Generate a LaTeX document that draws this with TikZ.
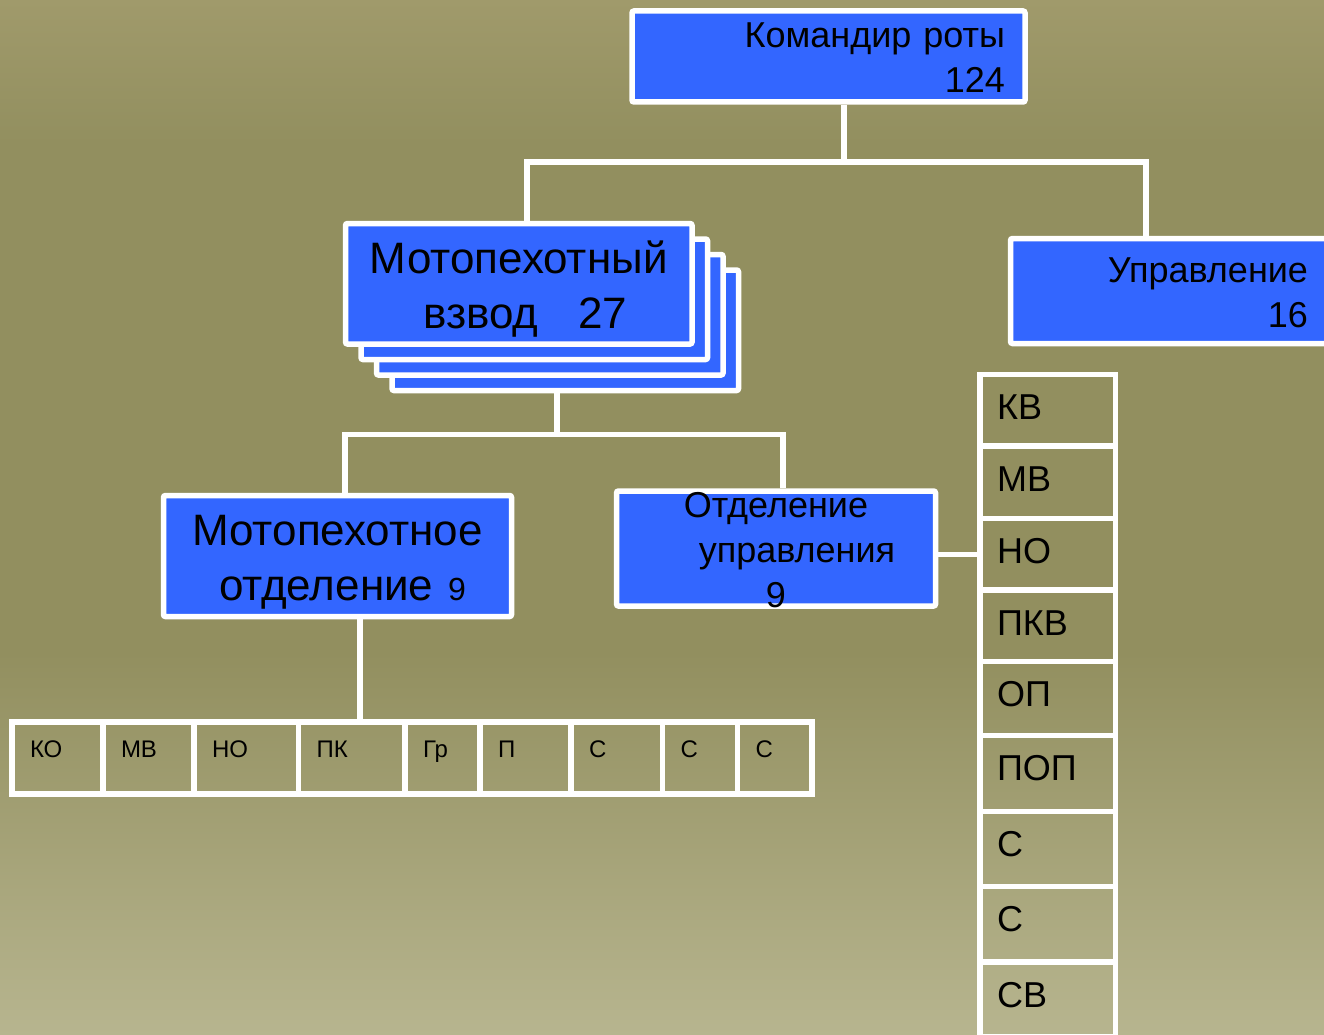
\documentclass[tikz,border=0pt]{standalone}
\usepackage{fontspec}
\setmainfont{Liberation Sans}
\definecolor{rotablue}{HTML}{3366FF}
\definecolor{bgtop}{HTML}{A09A6B}
\definecolor{bgmid}{HTML}{928F5F}
\definecolor{bgbot}{HTML}{B7B58F}
\pgfdeclareverticalshading{bgshade}{100bp}{color(0bp)=(bgbot); color(25bp)=(bgbot); color(43.5bp)=(bgmid); color(68bp)=(bgmid); color(75bp)=(bgtop); color(100bp)=(bgtop)}

\begin{document}
\begin{tikzpicture}[x=1pt, y=-1pt,
  box/.style={draw=white, line width=5.5pt, fill=rotablue, rounded corners=2pt, inner ysep=0pt, text=black},
  big/.style={font=\fontsize{44}{55}\selectfont},
  mid/.style={font=\fontsize{36}{45}\selectfont},
  small/.style={font=\fontsize{24}{29}\selectfont},
  cell/.style={draw=white, line width=5.5pt, inner ysep=0pt, align=left, text=black},
  wire/.style={white, line width=5.5pt},
]
  \useasboundingbox (0,0) rectangle (1324,1035);
  \clip (0,0) rectangle (1324,1035);
  \shade[shading=bgshade] (0,0) rectangle (1324,1035);

  % top level
  \node[box, mid, minimum width=393pt, minimum height=91pt, text width=353pt, inner xsep=20pt, align=right, text height=26pt, text depth=43pt] (cmd) at (828.5,56.5) {Командир роты\\124};
  \foreach \k in {3,2,1}
    \node[box, minimum width=346.5pt, minimum height=120.5pt] (plt\k) at ({518.75+15.5*\k},{283.75+15.5*\k}) {};
  \node[box, big, minimum width=346.5pt, minimum height=120.5pt, text width=326.5pt, inner xsep=10pt, align=center, text height=32pt, text depth=53.5pt] (plt) at (518.75,283.75) {Мотопехотный\\\hspace*{13pt}взвод\hspace{40pt}27};
  \node[box, mid, minimum width=329.5pt, minimum height=105pt, text width=265.5pt, inner xsep=32pt, align=right, text height=26pt, text depth=44pt] (upr) at (1175.25,291) {Управление\\16};

  % second level
  \node[box, big, minimum width=348pt, minimum height=121pt, text width=328pt, inner xsep=10pt, align=center, text height=32pt, text depth=54pt] (sq) at (337.5,556) {Мотопехотное\\\hspace*{10pt}отделение {\fontsize{32}{40}\selectfont 9}};
  \node[box, mid, minimum width=319pt, minimum height=106pt, text width=299pt, inner xsep=10pt, align=center, text height=26pt, text depth=89pt] (ctl) at (776,548.5) {Отделение\\\hspace*{42pt}управления\\9};

  % squad row
  \foreach \t/\a/\b [count=\i] in {КО/12/103, МВ/103/194, НО/194/298.5, ПК/298.5/405, Гр/405/480, П/480/571, С/571/662.5, С/662.5/737.5, С/737.5/812} {
    \pgfmathsetmacro\w{\b-\a}
    \pgfmathsetmacro\tw{\w-36}
    \node[cell, small, minimum width=\w pt, minimum height=72pt, text width=\tw pt, inner xsep=18pt, text height=17pt, text depth=19pt] (b\i) at ({(\a+\b)/2},758) {\t};
  }

  % control column
  \foreach \t/\a/\b [count=\i] in {КВ/374.5/446, МВ/446/518.5, НО/518.5/590, ПКВ/590/661.5, ОП/661.5/735.5, ПОП/735.5/811.5, С/811.5/886.5, С/886.5/962, СВ/962/1036.5} {
    \pgfmathsetmacro\h{\b-\a}
    \pgfmathsetmacro\d{\h-64}
    \node[cell, mid, minimum width=135.5pt, minimum height=\h pt, text width=101.5pt, inner xsep=17pt, text height=26pt, text depth=\d pt] (r\i) at (1047.75,{(\a+\b)/2}) {\t};
  }

  % connectors
  \coordinate (busM) at (844,162);
  \coordinate (busL) at (527,162);
  \coordinate (busR) at (1146,162);
  \draw[wire] (cmd.south -| busM) -- (busM);
  \draw[wire] (plt.north -| busL) -- (busL) -- (busR) -- (upr.north -| busR);
  \coordinate (dropP) at (557,434.5);
  \coordinate (busPL) at (345,434.5);
  \coordinate (busPR) at (783,434.5);
  \draw[wire] (plt3.south -| dropP) -- (dropP);
  \draw[wire] (sq.north -| busPL) -- (busPL) -- (busPR) -- (ctl.north -| busPR);
  \coordinate (dropS) at (360,722);
  \draw[wire] (sq.south -| dropS) -- (dropS |- b4.north);
  \draw[wire] (ctl.east |- r3.west) -- (r3.west);
\end{tikzpicture}
\end{document}
